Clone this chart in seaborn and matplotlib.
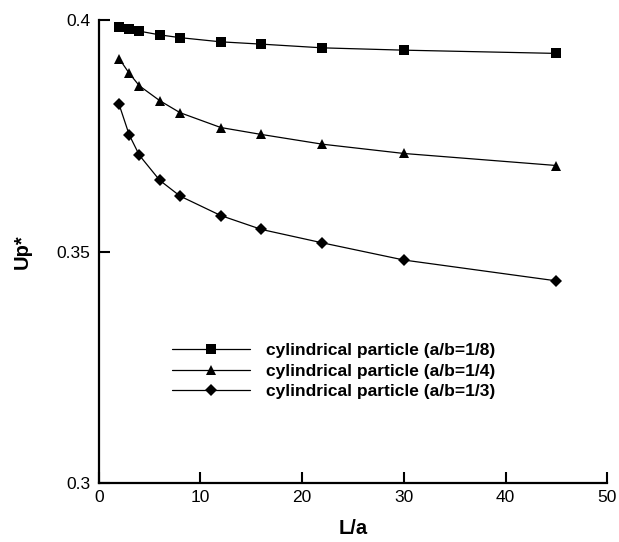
import numpy as np
import pandas as pd
import matplotlib
matplotlib.use('Agg')
import matplotlib.pyplot as plt
import seaborn as sns

# ── Data ──────────────────────────────────────────────────────────────
L_a = [2, 3, 4, 6, 8, 12, 16, 22, 30, 45]
up_1_8 = [0.3986, 0.3981, 0.3976, 0.3968, 0.3962, 0.3953, 0.3948, 0.3940, 0.3935, 0.3928]
up_1_4 = [0.3917, 0.3885, 0.3858, 0.3826, 0.3800, 0.3768, 0.3753, 0.3732, 0.3712, 0.3686]
up_1_3 = [0.3818, 0.3752, 0.3708, 0.3654, 0.3620, 0.3578, 0.3548, 0.3519, 0.3482, 0.3437]
labels = ['cylindrical particle (a/b=1/8)',
          'cylindrical particle (a/b=1/4)',
          'cylindrical particle (a/b=1/3)']

df = pd.concat([
    pd.DataFrame({'L/a': L_a, 'Up*': vals, 'series': lab})
    for vals, lab in zip([up_1_8, up_1_4, up_1_3], labels)
])

# ── Style ─────────────────────────────────────────────────────────────
sns.set_style('ticks')
plt.rcParams['font.family'] = ['Liberation Sans', 'DejaVu Sans']
plt.rcParams['text.color'] = 'black'
plt.rcParams['axes.labelcolor'] = 'black'

fig = plt.figure(figsize=(6.19, 5.42), dpi=100)
ax = fig.add_axes([0.1595, 0.1083, 0.8215, 0.8547])

markers = {labels[0]: 's', labels[1]: '^', labels[2]: 'D'}
sizes = {labels[0]: 7, labels[1]: 7.5, labels[2]: 6.5}
for lab in labels:
    sub = df[df['series'] == lab]
    sns.lineplot(data=sub, x='L/a', y='Up*', color='black', linewidth=0.9,
                 marker=markers[lab], markersize=sizes[lab], markeredgewidth=0,
                 label=lab, sort=False, ax=ax)

ax.set_xlim(0, 50)
ax.set_ylim(0.3, 0.4)
ax.set_xticks([0, 10, 20, 30, 40, 50])
ax.set_yticks([0.3, 0.35, 0.4])
ax.set_yticklabels(['0.3', '0.35', '0.4'])
ax.tick_params(direction='in', length=8, width=1.5, labelsize=12.5, colors='black')
ax.tick_params(axis='x', pad=5)
ax.tick_params(axis='y', pad=6)
ax.spines[['top', 'right']].set_visible(False)
for s in ['left', 'bottom']:
    ax.spines[s].set_linewidth(1.6)
    ax.spines[s].set_color('black')

ax.set_xlabel('L/a', fontsize=14.5, fontweight='bold')
ax.set_ylabel('Up*', fontsize=14.5, fontweight='bold')
ax.xaxis.set_label_coords(0.5, -0.078)
ax.yaxis.set_label_coords(-0.132, 0.5)

leg = ax.legend(loc='center left', bbox_to_anchor=(171.7 / 619, 1 - 371 / 542),
                bbox_transform=fig.transFigure, frameon=False,
                prop={'size': 12.5, 'weight': 'bold'}, handlelength=4.5,
                handletextpad=0.95, labelspacing=0.33, borderpad=0, borderaxespad=0)

fig.savefig('out.png', dpi=100)
